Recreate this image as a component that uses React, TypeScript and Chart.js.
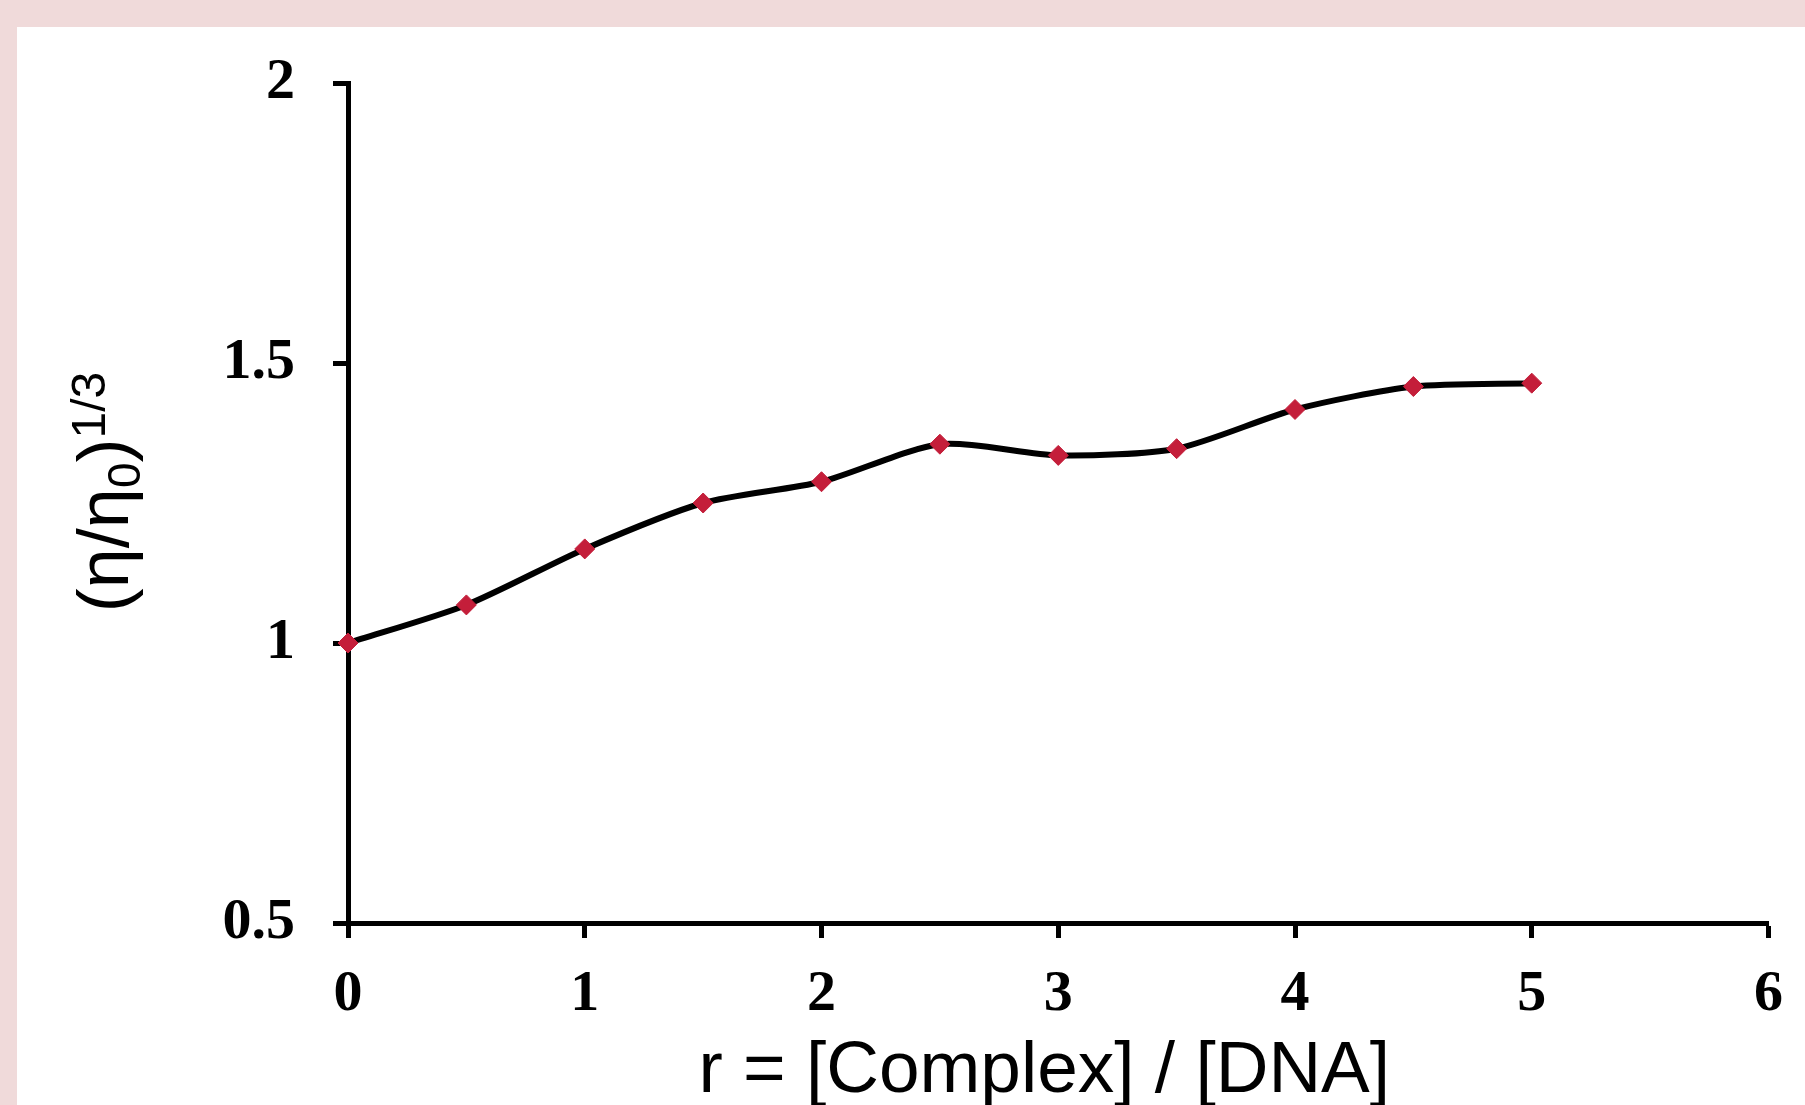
import React, { useEffect, useRef } from "react";
import { Chart, registerables } from "chart.js";

Chart.register(...registerables);

const rValues = [0, 0.5, 1, 1.5, 2, 2.5, 3, 3.5, 4, 4.5, 5];
const viscosity = [1.0, 1.068, 1.168, 1.25, 1.288, 1.355, 1.335, 1.347, 1.417, 1.458, 1.464];
const xTickLabels = ["0", "1", "2", "3", "4", "5", "6"];
const yTickLabels = ["0.5", "1", "1.5", "2"];
const xTitle = "r = [Complex] / [DNA]";
const yTitleMain = "(η/η";
const yTitleSub = "0";
const yTitleClose = ")";
const yTitleSup = "1/3";

const W = 1805;
const H = 1105;

const framePlugin = {
  id: "frame",
  beforeDraw(chart: any) {
    const ctx = chart.ctx;
    ctx.save();
    ctx.fillStyle = "#f0dada";
    ctx.fillRect(0, 0, W, H);
    ctx.fillStyle = "#ffffff";
    ctx.fillRect(17, 27, W - 17, H - 27);
    ctx.restore();
  },
  afterDraw(chart: any) {
    const ctx = chart.ctx;
    const area = chart.chartArea;
    ctx.save();
    ctx.fillStyle = "#000";
    // x title
    ctx.font = '73px "Liberation Sans", Arial, sans-serif';
    ctx.textAlign = "center";
    ctx.textBaseline = "alphabetic";
    ctx.fillText(xTitle, (area.left + area.right) / 2 - 14, 1092);
    // y title (rotated)
    const mainF = '72px "Liberation Sans", Arial, sans-serif';
    const subF = '46px "Liberation Sans", Arial, sans-serif';
    const supF = '48px "Liberation Sans", Arial, sans-serif';
    ctx.font = mainF;
    const w1 = ctx.measureText(yTitleMain).width;
    const w3 = ctx.measureText(yTitleClose).width;
    ctx.font = subF;
    const w2 = ctx.measureText(yTitleSub).width;
    ctx.font = supF;
    const w4 = ctx.measureText(yTitleSup).width;
    const total = w1 + w2 + w3 + w4;
    const cy = 492;
    ctx.translate(128, cy);
    ctx.rotate(-Math.PI / 2);
    ctx.textAlign = "left";
    let x = -total / 2;
    ctx.font = mainF;
    ctx.fillText(yTitleMain, x, 0);
    x += w1;
    ctx.font = subF;
    ctx.fillText(yTitleSub, x, 12);
    x += w2;
    ctx.font = mainF;
    ctx.fillText(yTitleClose, x, 0);
    x += w3;
    ctx.font = supF;
    ctx.fillText(yTitleSup, x, -23);
    ctx.restore();
  },
};

export default function App() {
  const ref = useRef<HTMLCanvasElement | null>(null);
  useEffect(() => {
    if (!ref.current) return;
    const tickFont = { family: '"Liberation Serif", "Times New Roman", serif', size: 58, weight: "bold" as const };
    const chart = new Chart(ref.current, {
      type: "line",
      data: {
        datasets: [
          {
            data: rValues.map((r, i) => ({ x: r, y: viscosity[i] })),
            borderColor: "#000000",
            borderWidth: 6,
            tension: 0.25,
            pointStyle: "rectRot",
            pointRadius: 10,
            pointHoverRadius: 10,
            pointBackgroundColor: "#c41e3a",
            pointBorderColor: "#c41e3a",
            pointBorderWidth: 1,
            clip: false as any,
          },
        ],
      },
      options: {
        responsive: false,
        animation: false,
        devicePixelRatio: 1,
        layout: { padding: { top: 83, right: 28, left: 0, bottom: 0 } },
        plugins: {
          legend: { display: false },
          tooltip: { enabled: false },
          title: { display: false },
        },
        scales: {
          x: {
            type: "linear",
            min: 0,
            max: 6,
            afterFit(scale: any) {
              scale.height = 182;
            },
            afterBuildTicks(scale: any) {
              scale.ticks = xTickLabels.map((t) => ({ value: Number(t) }));
            },
            ticks: {
              stepSize: 1,
              color: "#000",
              font: tickFont,
              padding: 22,
              maxRotation: 0,
              callback: (v: any) => String(v),
            },
            grid: {
              drawOnChartArea: false,
              drawTicks: true,
              tickLength: 15,
              tickWidth: 5,
              tickColor: "#000",
            },
            border: { display: true, color: "#000", width: 5 },
          },
          y: {
            type: "linear",
            min: 0.5,
            max: 2,
            afterFit(scale: any) {
              scale.width = 348;
            },
            afterBuildTicks(scale: any) {
              scale.ticks = yTickLabels.map((t) => ({ value: Number(t) }));
            },
            ticks: {
              stepSize: 0.5,
              color: "#000",
              font: tickFont,
              padding: 38,
              callback: (v: any) => String(v),
            },
            grid: {
              drawOnChartArea: false,
              drawTicks: true,
              tickLength: 15,
              tickWidth: 5,
              tickColor: "#000",
            },
            border: { display: true, color: "#000", width: 5 },
          },
        },
      },
      plugins: [framePlugin],
    });
    return () => chart.destroy();
  }, []);
  return (
    <div style={{ position: "absolute", left: 0, top: 0, width: W, height: H }}>
      <canvas ref={ref} width={W} height={H} style={{ display: "block", width: W, height: H }} />
    </div>
  );
}
